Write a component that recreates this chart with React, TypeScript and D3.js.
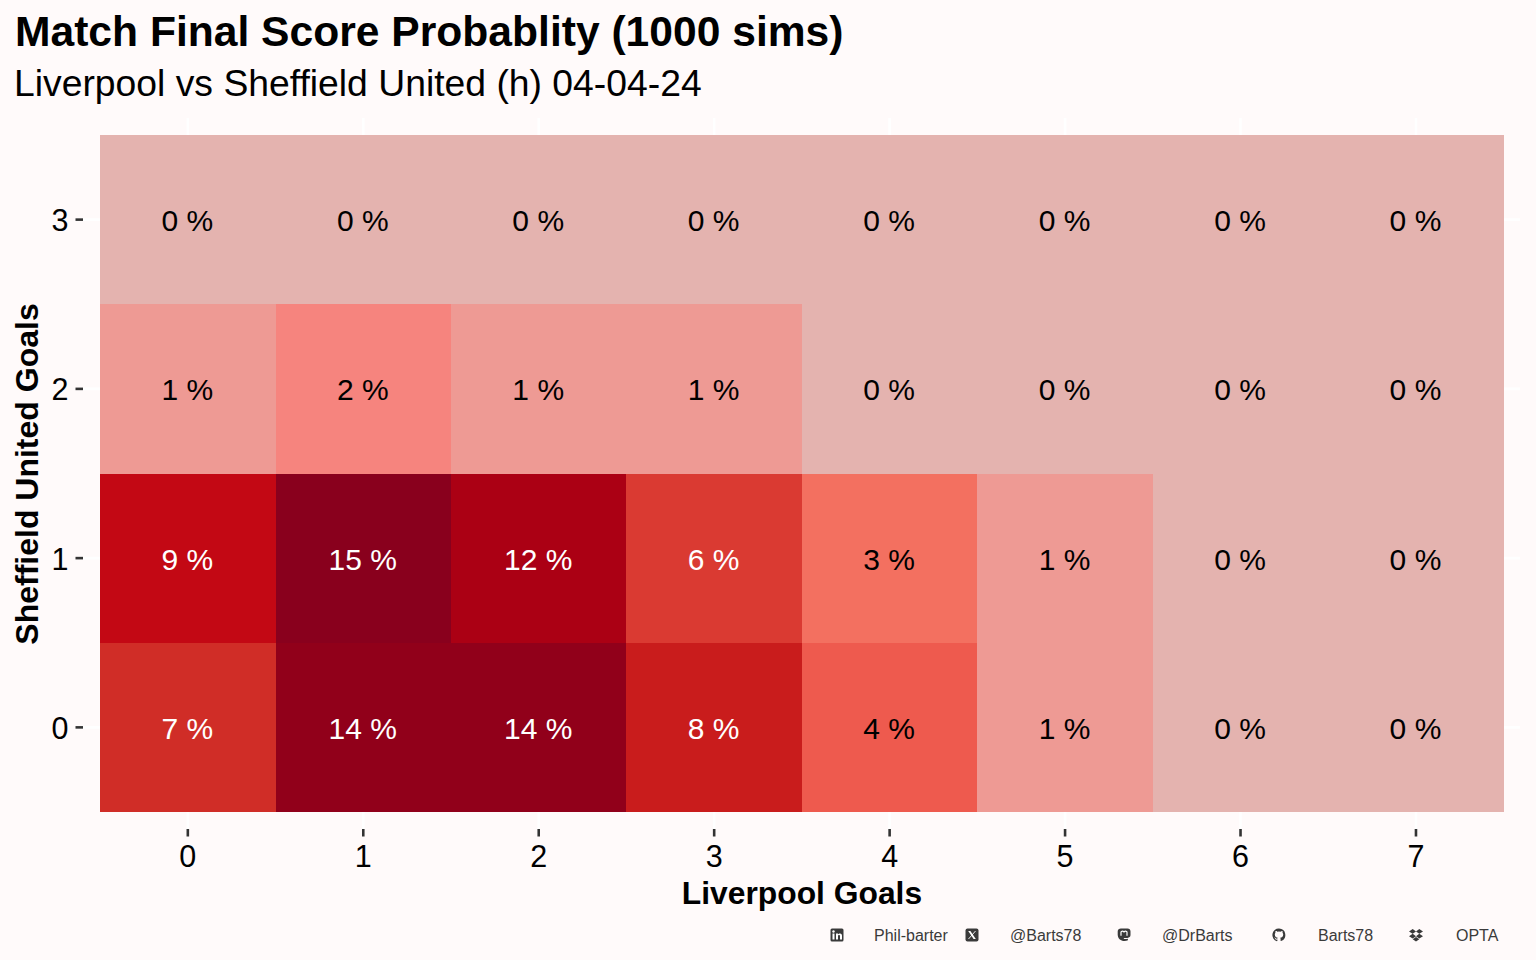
import React from "react";
import * as d3 from "d3";

const homeGoals = [0, 1, 2, 3, 4, 5, 6, 7];
const awayGoals = [0, 1, 2, 3];
const probsAway0 = [7, 14, 14, 8, 4, 1, 0, 0];
const probsAway1 = [9, 15, 12, 6, 3, 1, 0, 0];
const probsAway2 = [1, 2, 1, 1, 0, 0, 0, 0];
const probsAway3 = [0, 0, 0, 0, 0, 0, 0, 0];
const probRows = [probsAway0, probsAway1, probsAway2, probsAway3];
const colourStops = [0, 1, 2, 3, 4, 6, 7, 8, 9, 12, 14, 15];
const colourValues = ["#E4B3AF", "#EE9A94", "#F6847E", "#F37060", "#EE5A4E", "#DA3A32", "#D02D27", "#C91C1C", "#C30814", "#AB0014", "#91001A", "#89001D"];
const credits = ["Phil-barter", "@Barts78", "@DrBarts", "Barts78", "OPTA"];
const creditIconX = [837, 972, 1124, 1279, 1416];
const creditTextX = [874, 1010, 1162, 1318, 1456];

const W = 1536, H = 960;
const FONT = "'Liberation Sans', Arial, sans-serif";
const INK = "#3a3a3a";

function Icon({ i, x, y }: { i: number; x: number; y: number }) {
  const t = `translate(${x - 7},${y - 7})`;
  if (i === 0)
    return (
      <g transform={t}>
        <rect x={0.5} y={0.5} width={13} height={13} rx={1.5} fill={INK} />
        <rect x={2.5} y={5.5} width={2} height={6} fill="#fff" />
        <circle cx={3.5} cy={3.5} r={1.2} fill="#fff" />
        <path d="M6 5.500h2v1c.5-.8 1.200-1.100 2-1.100 1.500 0 2 1 2 2.500v3.600h-2V8.300c0-.7-.3-1.200-1-1.200s-1 .5-1 1.200v3.200H6z" fill="#fff" />
      </g>
    );
  if (i === 1)
    return (
      <g transform={t}>
        <rect x={0.5} y={0.5} width={13} height={13} rx={2} fill={INK} />
        <path d="M3.200 3h2.200l5.400 8h-2.200z" fill="#fff" />
        <path d="M10.500 3L3.500 11" stroke="#fff" strokeWidth={0.9} />
      </g>
    );
  if (i === 2)
    return (
      <g transform={t}>
        <path d="M4 .5h6.500c1.900 0 3 1.300 3 3v3.500c0 1.800-1.200 2.700-3 2.900-1.300.1-2.600.2-3.900 0 .3 1 1.300 1.200 2.600 1.100l1.700-.3v1.500c-1.600.8-4.300 1-6.200.2C1.700 11.700 1 9.500.7 7V3.500C.7 1.800 2 .5 4 .5z" fill={INK} />
        <path d="M4 7.800V4.300c0-1.600 3-1.600 3 .3 0-1.900 3-1.900 3-.3v3.500" fill="none" stroke="#fff" strokeWidth={1.2} />
      </g>
    );
  if (i === 3)
    return (
      <g transform={t}>
        <path d="M7 .5A6.500 6.500 0 0 0 4.900 13.200c.3 0 .5-.2.5-.4v-1.200c-1.800.4-2.200-.8-2.200-.8-.3-.8-.7-1-.7-1-.6-.4 0-.4 0-.4.600 0 1 .7 1 .7.600 1 1.500.7 1.900.5 0-.4.200-.7.400-.9-1.400-.2-3-.7-3-3.200 0-.7.300-1.300.7-1.700-.1-.2-.3-.8.100-1.700 0 0 .5-.2 1.800.7a6 6 0 0 1 3.200 0c1.300-.9 1.800-.7 1.800-.7.400.9.200 1.500.1 1.700.4.400.7 1 .7 1.700 0 2.500-1.600 3-3 3.200.2.200.4.600.4 1.200v1.800c0 .2.200.4.500.4A6.500 6.500 0 0 0 7 .5z" fill={INK} />
      </g>
    );
  return (
    <g transform={t}>
      <path d="M3.700 1L0 3.400l3.700 2.400L7 3.400zM10.300 1L7 3.400l3.300 2.400L14 3.400zM0 8.200l3.700 2.400L7 8.200 3.700 5.800zM10.300 5.800L7 8.200l3.300 2.400L14 8.200zM3.700 11.300L7 13.500l3.300-2.200L7 9z" fill={INK} />
    </g>
  );
}

export default function App() {
  const x = d3.scaleBand<number>().domain(homeGoals).range([100.1, 1503.7]);
  const y = d3.scaleBand<number>().domain(awayGoals).range([812, 135]);
  const colour = d3.scaleLinear<string>().domain(colourStops).range(colourValues);

  const cells = probRows.flatMap((row, r) =>
    row.map((p, c) => ({ home: homeGoals[c], away: awayGoals[r], p }))
  );

  return (
    <svg width={W} height={H} viewBox={`0 0 ${W} ${H}`} style={{ position: "fixed", left: 0, top: 0, display: "block" }} fontFamily={FONT}>
      <rect width={W} height={H} fill="#FFFAFA" />

      {homeGoals.map((g) => {
        const cx = x(g)! + x.bandwidth() / 2;
        return <line key={g} x1={cx} x2={cx} y1={118} y2={829} stroke="#ffffff" strokeWidth={2.6} />;
      })}
      {awayGoals.map((g) => {
        const cy = y(g)! + y.bandwidth() / 2;
        return <line key={g} x1={83} x2={1520} y1={cy} y2={cy} stroke="#ffffff" strokeWidth={2.6} />;
      })}

      {cells.map((d) => (
        <rect key={`${d.home}-${d.away}`} x={x(d.home)!} y={y(d.away)!} width={x.bandwidth()} height={y.bandwidth()} fill={colour(d.p)} shapeRendering="crispEdges" />
      ))}

      {cells.map((d) => (
        <text key={`t${d.home}-${d.away}`} x={x(d.home)! + x.bandwidth() / 2 - 0.5} y={y(d.away)! + y.bandwidth() / 2 + 11.6} textAnchor="middle" fontSize={30} fill={d.p >= 6 ? "#ffffff" : "#000000"}>
          {d.p} %
        </text>
      ))}

      {homeGoals.map((g) => {
        const cx = x(g)! + x.bandwidth() / 2;
        return (
          <g key={g}>
            <line x1={cx} x2={cx} y1={829} y2={836.5} stroke="#333333" strokeWidth={2.6} />
            <text x={cx} y={866.5} textAnchor="middle" fontSize={30.5} fill="#000">{g}</text>
          </g>
        );
      })}
      {awayGoals.map((g) => {
        const cy = y(g)! + y.bandwidth() / 2;
        return (
          <g key={g}>
            <line x1={75.5} x2={83} y1={cy} y2={cy} stroke="#333333" strokeWidth={2.6} />
            <text x={68.5} y={cy + 11.6} textAnchor="end" fontSize={30.5} fill="#000">{g}</text>
          </g>
        );
      })}

      <text x={15} y={46} fontSize={42.6} fontWeight={700} fill="#000">Match Final Score Probablity (1000 sims)</text>
      <text x={14} y={96} fontSize={37.3} fill="#000">Liverpool vs Sheffield United (h) 04-04-24</text>
      <text x={802} y={903.5} textAnchor="middle" fontSize={31.8} fontWeight={700} fill="#000">Liverpool Goals</text>
      <text transform="translate(37.5,474) rotate(-90)" textAnchor="middle" fontSize={32} fontWeight={700} fill="#000">Sheffield United Goals</text>

      {credits.map((c, i) => (
        <g key={c}>
          <Icon i={i} x={creditIconX[i]} y={935} />
          <text x={creditTextX[i]} y={941} fontSize={16} fill={INK}>{c}</text>
        </g>
      ))}
    </svg>
  );
}
